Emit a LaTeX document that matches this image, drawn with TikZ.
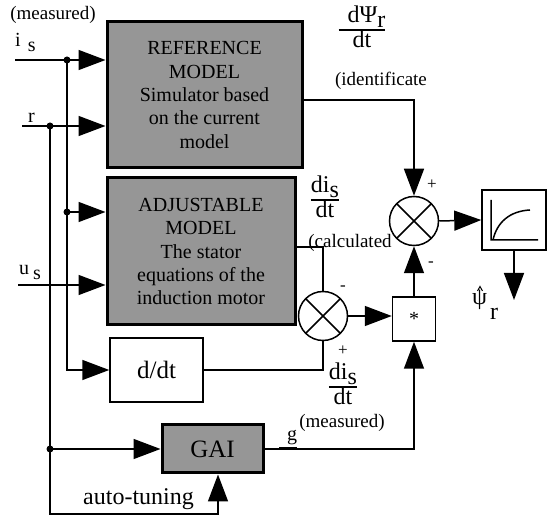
\documentclass[tikz,border=0pt]{standalone}
\usepackage{fontspec}
\setmainfont{Liberation Serif}
\usepackage{tikz}
\usetikzlibrary{arrows.meta}
\usetikzlibrary{calc}

\definecolor{boxgray}{RGB}{150,150,150}
\newcommand{\boxfont}{\fontsize{20}{23.3}\selectfont}
\newcommand{\bigfont}{\fontsize{25}{28}\selectfont}
\newcommand{\fracfont}{\fontsize{24}{26}\selectfont}
\newcommand{\labfont}{\fontsize{19}{22}\selectfont}
\newcommand{\signfont}{\fontsize{17}{19}\selectfont}
\newcommand{\lowsub}[1]{\smash{\raisebox{-0.22em}{#1}}}
\newcommand{\fracbar}[2]{\setlength{\arrayrulewidth}{1.3pt}\renewcommand{\arraystretch}{0.9}\begin{tabular}{@{}c@{}}#1\\\hline #2\end{tabular}}

\tikzset{
	model/.style={draw, line width=3pt, fill=boxgray, inner sep=0pt, align=center, font=\boxfont},
	plainbox/.style={draw, line width=1.5pt, inner sep=0pt},
	sumnode/.style={draw, circle, line width=1.5pt, minimum size=49pt, inner sep=0pt,
		path picture={\draw[line width=1.5pt] (path picture bounding box.north west) -- (path picture bounding box.south east)
			(path picture bounding box.north east) -- (path picture bounding box.south west);}},
	tap/.style={circle, fill, inner sep=0pt, minimum size=7pt},
	lab/.style={inner sep=0pt, font=\labfont},
	wire/.style={line width=1.5pt},
	sig/.style={wire, -{Triangle[length=27pt,width=20pt]}},
}

\begin{document}
\begin{tikzpicture}[x=1pt, y=-1pt]
		\useasboundingbox (0,0) rectangle (547,518);
		% blocks
		\node[model, minimum width=195pt, minimum height=146pt] (refm) at (204.5,95) {REFERENCE\\MODEL\\Simulator based\\on the current\\model};
		\node[model, minimum width=188pt, minimum height=147pt] (adjm) at (201,251.5) {ADJUSTABLE\\MODEL\\The stator\\equations of the\\induction motor};
		\node[plainbox, minimum width=93pt, minimum height=64pt, font=\bigfont, text depth=-4pt] (ddt) at (156.5,370) {d/dt};
		\node[model, minimum width=101pt, minimum height=48pt, font=\bigfont] (gai) at (212.5,449) {GAI};
		\node[sumnode] (sumflux) at (414,221) {};
		\node[sumnode] (sumcur) at (323,316) {};
		\node[plainbox, minimum width=43pt, minimum height=44pt, font=\boxfont] (mult) at (414,319) {*};
		\node[plainbox, minimum width=64pt, minimum height=60pt] (lag) at (514,220) {};
		\draw[wire] (491,200) -- (491,240) -- (538,240)
		(493,240) .. controls (497,222) and (510,211) .. (530,210);
		
		% branch points and free ends
		\node[tap] (tapis) at (67,60) {};
		\node[tap] (tapr) at (50,126) {};
		\node[tap] (tapadj) at (67,212) {};
		\node[tap] (tapgai) at (50,449) {};
		\coordinate (isin) at (15,60);
		\coordinate (rin) at (22,126);
		\coordinate (usin) at (18,285);
		\coordinate (tunecorner) at (50,514);
		\coordinate (psiout) at (514,300);
		
		% signals
		\draw[sig] (isin) -- (isin -| refm.west);
		\draw[sig] (rin) -- (rin -| refm.west);
		\draw[sig] (tapadj.center) -- (tapadj -| adjm.west);
		\draw[sig] (usin) -- (usin -| adjm.west);
		\draw[sig] (tapis.center) -- (tapis.center |- ddt.west) -- (ddt.west);
		\draw[sig] (tapr.center) -- (tunecorner) -| ([xshift=5.5pt]gai.south);
		\draw[sig] (tapgai.center) -- (gai.west);
		\draw[sig] (gai.east) -| (mult.south);
		\draw[sig] ([yshift=-5pt]refm.east) -| (sumflux.north);
		\draw[wire] ([yshift=4.5pt]adjm.east) -| (sumcur.north);
		\draw[wire] (ddt.east) -| (sumcur.south);
		\draw[sig] (sumcur.east) -- (sumcur.east -| mult.west);
		\path[sig]
		(mult.north) edge (sumflux.south)
		(sumflux.east) edge (lag.west)
		(lag.south) edge (psiout)
		;
		
		% labels
		\node[lab, anchor=base] (measin) at (53,20) {(measured)};
		\node[lab, font=\boxfont, anchor=base west] (islab) at (15,47) {i\hspace{7pt}\lowsub{s}};
		\node[lab, font=\boxfont, anchor=base west] (rlab) at (28,123) {r};
		\node[lab, font=\boxfont, anchor=base west] (uslab) at (19,275) {u\hspace{4pt}\lowsub{s}};
		\node[lab, font=\fracfont] (dpsi) at (362,30) {\fracbar{\hspace{9pt}dΨ\lowsub{r}}{dt}};
		\node[lab, anchor=base] (identlab) at (381,86) {(identificate};
		\node[lab, font=\fracfont] (discalc) at (325,200) {\fracbar{di\lowsub{s}}{dt}};
		\node[lab, anchor=base] (calclab) at (350,248) {(calculated};
		\node[lab, font=\fracfont] (dismeas) at (343,387) {\fracbar{di\lowsub{s}}{dt}};
		\node[lab, anchor=base] (measout) at (342,428) {(measured)};
		\node[lab, font=\signfont] (plusflux) at (432,185) {+};
		\node[lab, font=\signfont] (minusflux) at (431,264) {-};
		\node[lab, font=\signfont] (minuscur) at (343,288) {-};
		\node[lab, font=\signfont] (pluscur) at (343,351) {+};
		\node[lab, font=\boxfont, anchor=base west] (glab) at (279,441) {\underline{\hspace{8pt}g}};
		\node[lab, font=\fracfont, anchor=base west] (tunelab) at (83,505) {auto-tuning};
		\node[lab, font=\fracfont, anchor=base west] (psilab) at (472,305) {ψ\hspace{3pt}\raisebox{-15pt}{r}};
		\draw[line width=1pt] (477.5,291) -- (480,286.5) -- (482.5,291);
\end{tikzpicture}
\end{document}
